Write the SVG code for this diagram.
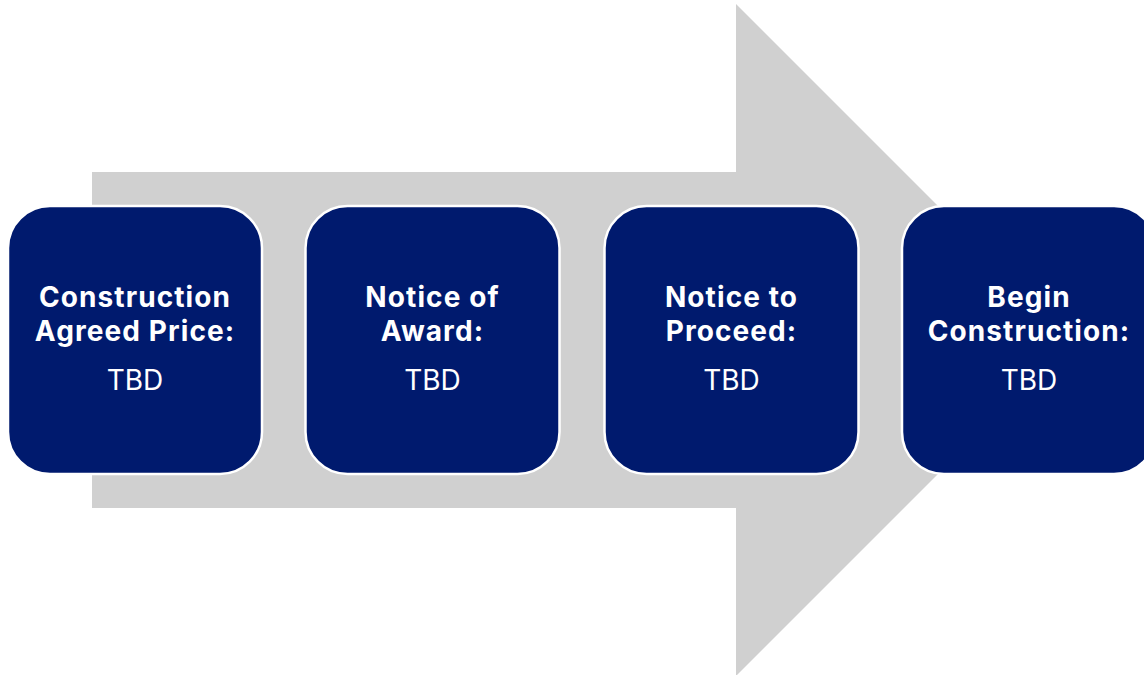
<svg xmlns="http://www.w3.org/2000/svg" width="1144" height="675" viewBox="0 0 1144 675">
<style>
.box{fill:#001A6E;stroke:#FFFFFF;stroke-width:2.5}
.t{font-family:Inter,"Liberation Sans",sans-serif;fill:#FFFFFF;text-anchor:middle;font-size:28px}
.b{font-weight:700;letter-spacing:1.1px}
</style>
<rect width="1144" height="675" fill="#FFFFFF"/>
<g id="arrow">
<polygon points="92,172 736,172 736,4 1072,340 736,676 736,508 92,508" fill="#D0D0D0"/>
</g>
<g id="node1">
<rect class="box" x="8" y="206" width="254" height="268" rx="42"/>
<text class="t b" x="135" y="307">Construction</text>
<text class="t b" x="135" y="341">Agreed Price:</text>
<text class="t" x="135" y="390">TBD</text>
</g>
<g id="node2">
<rect class="box" x="305.5" y="206" width="254" height="268" rx="42"/>
<text class="t b" x="432.5" y="307">Notice of</text>
<text class="t b" x="432.5" y="341">Award:</text>
<text class="t" x="432.5" y="390">TBD</text>
</g>
<g id="node3">
<rect class="box" x="604.5" y="206" width="254" height="268" rx="42"/>
<text class="t b" x="731.5" y="307">Notice to</text>
<text class="t b" x="731.5" y="341">Proceed:</text>
<text class="t" x="731.5" y="390">TBD</text>
</g>
<g id="node4">
<rect class="box" x="902" y="206" width="254" height="268" rx="42"/>
<text class="t b" x="1029" y="307">Begin</text>
<text class="t b" x="1029" y="341">Construction:</text>
<text class="t" x="1029" y="390">TBD</text>
</g>
<g id="connectors"></g>
</svg>
